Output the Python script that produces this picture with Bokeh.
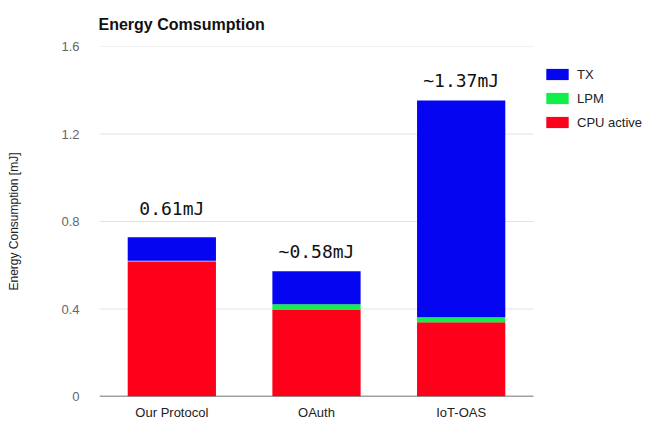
from bokeh.plotting import figure
from bokeh.models import (ColumnDataSource, Legend, LegendItem, FixedTicker,
                          Range1d, Title)
from bokeh.embed import file_html
from bokeh.resources import INLINE
from bokeh.core.properties import value

# ---- data ----
protocols = ["Our Protocol", "OAuth", "IoT-OAS"]
cpu_active = [0.615, 0.398, 0.340]
lpm = [0.006, 0.024, 0.022]
tx = [0.107, 0.151, 0.991]
total_labels = ["0.61mJ", "~0.58mJ", "~1.37mJ"]
label_gap = [0.13, 0.09, 0.09]
y_ticks = [0, 0.4, 0.8, 1.2, 1.6]

series = ["cpu_active", "lpm", "tx"]
series_names = ["CPU active", "LPM", "TX"]
colors = ["#fe0019", "#12ee4a", "#0505f2"]

n = len(protocols)
xc = [i + 0.5 for i in range(n)]          # category centres
src = ColumnDataSource(dict(x=xc, cpu_active=cpu_active, lpm=lpm, tx=tx))

# frame spans 99..645 px; categories occupy 99..533 px (right area holds the legend)
x_end = n * (645 - 99) / (533 - 99)
p = figure(x_range=Range1d(0, x_end), y_range=Range1d(0, 1.6),
           width=645, height=422, output_backend="svg",
           toolbar_location=None, min_border_left=99, min_border_right=0,
           min_border_top=46, min_border_bottom=26)
p.outline_line_color = None
p.background_fill_color = "white"
p.border_fill_color = "white"

# grid lines (only across the category area)
p.xgrid.grid_line_color = None
p.ygrid.grid_line_color = None
gsrc = ColumnDataSource(dict(x0=[0] * len(y_ticks[1:]), x1=[n] * len(y_ticks[1:]),
                             y=y_ticks[1:]))
p.segment(x0="x0", y0="y", x1="x1", y1="y", source=gsrc,
          line_color="#e2e2e2", line_width=1)

renderers = p.vbar_stack(series, x="x", width=0.61, color=colors,
                         line_color=None, source=src)

# baseline
p.segment(x0=[0], y0=[0], x1=[n], y1=[0], line_color="#444444", line_width=1.5)

# total labels
tops = [c + l + t + g for c, l, t, g in zip(cpu_active, lpm, tx, label_gap)]
lsrc = ColumnDataSource(dict(x=xc, y=tops, text=total_labels))
p.text(x="x", y="y", text="text", source=lsrc, text_align="center",
       text_baseline="middle", text_font=value("DejaVu Sans Mono"),
       text_font_size="18px", text_color="#111111")

# title
p.title.text = ""
t = Title(text="Energy Comsumption", text_font="Liberation Sans",
          text_font_size="16px", text_font_style="bold", text_color="#111111",
          align="left", offset=-1, standoff=27)
p.add_layout(t, "above")

# y axis
p.yaxis.ticker = FixedTicker(ticks=y_ticks)
p.yaxis.major_label_overrides = {0: "0", 0.4: "0.4", 0.8: "0.8", 1.2: "1.2", 1.6: "1.6"}
p.yaxis.axis_line_color = None
p.yaxis.major_tick_line_color = None
p.yaxis.minor_tick_line_color = None
p.yaxis.major_label_text_font = "Liberation Sans"
p.yaxis.major_label_text_font_size = "13px"
p.yaxis.major_label_text_color = "#666666"
p.yaxis.major_label_standoff = 14
p.yaxis.axis_label = "Energy Consumption [mJ]"
p.yaxis.axis_label_text_font = "Liberation Sans"
p.yaxis.axis_label_text_font_size = "12px"
p.yaxis.axis_label_text_font_style = "normal"
p.yaxis.axis_label_text_color = "#222222"
p.yaxis.axis_label_standoff = 37

# x axis with category names
p.xaxis.ticker = FixedTicker(ticks=xc)
p.xaxis.major_label_overrides = {x: name for x, name in zip(xc, protocols)}
p.xaxis.axis_line_color = None
p.xaxis.major_tick_line_color = None
p.xaxis.minor_tick_line_color = None
p.xaxis.major_label_text_font = "Liberation Sans"
p.xaxis.major_label_text_font_size = "13px"
p.xaxis.major_label_text_color = "#222222"
p.xaxis.major_label_standoff = 2

# legend (reverse order, right of the bars)
items = [LegendItem(label=nm, renderers=[r]) for nm, r in zip(series_names, renderers)][::-1]
legend = Legend(items=items, location=(444, 264), orientation="vertical",
                glyph_width=28, glyph_height=14, label_height=20, spacing=4,
                padding=0, margin=0, border_line_color=None,
                background_fill_alpha=0, label_text_font="Liberation Sans",
                label_text_font_size="13px", label_text_color="#222222",
                label_standoff=6)
p.add_layout(legend, "center")

open("out.html", "w").write(file_html(p, INLINE))
